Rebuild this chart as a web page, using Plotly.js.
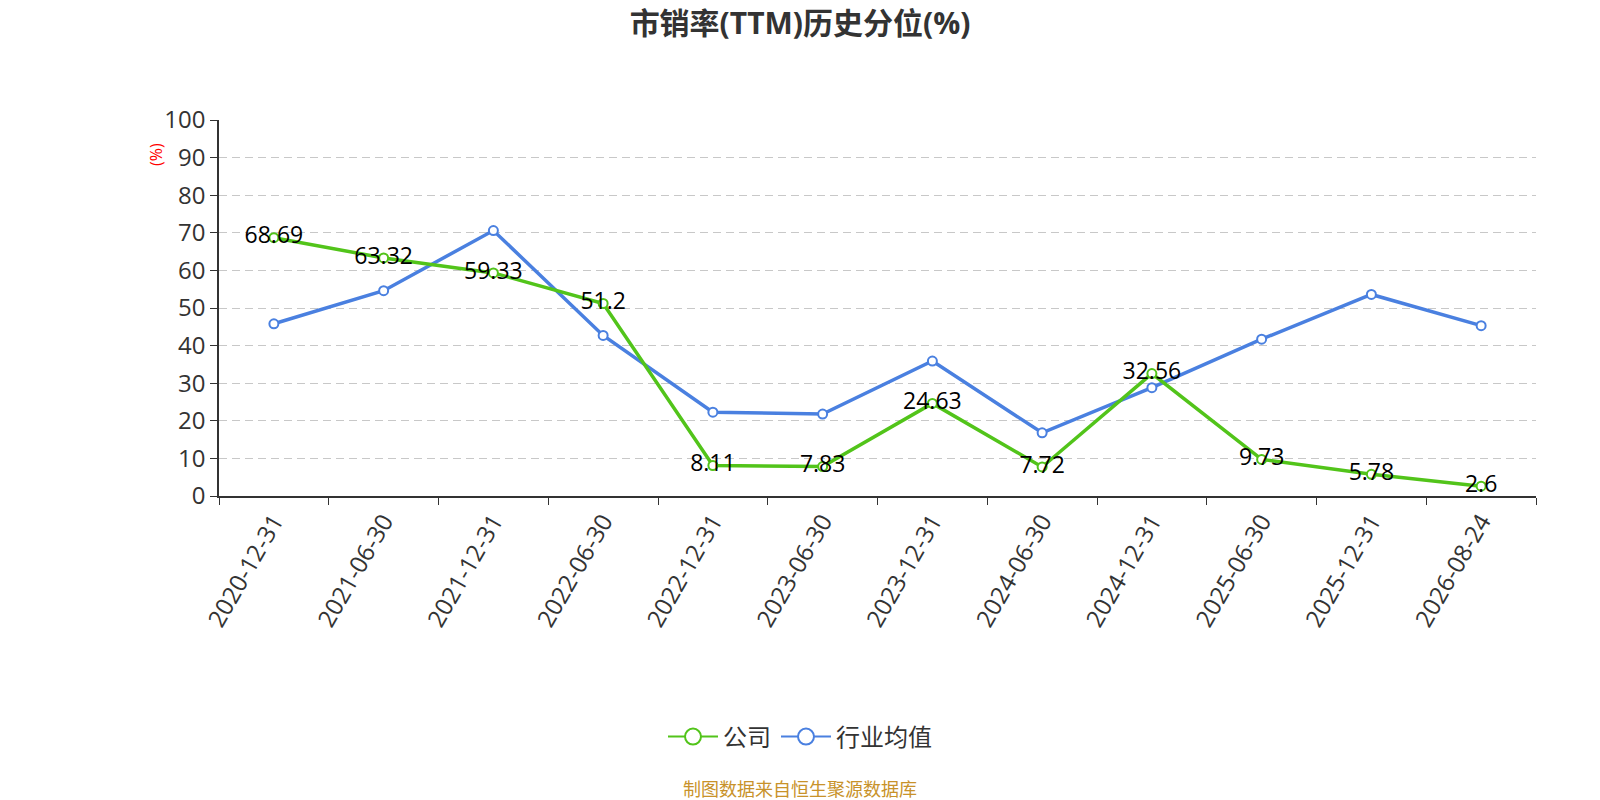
<!DOCTYPE html>
<html>
<head>
<meta charset="utf-8">
<script src="https://cdn.plot.ly/plotly-3.0.1.min.js"></script>
<style>
  html, body { margin: 0; padding: 0; background: #fff; }
  #chart { width: 1600px; height: 800px; }
</style>
</head>
<body>
<div id="chart"></div>
<script>
const dates = ['2020-12-31', '2021-06-30', '2021-12-31', '2022-06-30', '2022-12-31', '2023-06-30',
               '2023-12-31', '2024-06-30', '2024-12-31', '2025-06-30', '2025-12-31', '2026-08-24'];
const company = [68.69, 63.32, 59.33, 51.2, 8.11, 7.83, 24.63, 7.72, 32.56, 9.73, 5.78, 2.6];
const industry = [45.8, 54.6, 70.6, 42.7, 22.3, 21.8, 35.9, 16.8, 28.8, 41.7, 53.6, 45.3];
const series_names = ['公司', '行业均值'];
const series_colors = ['#52c41a', '#4a80e0'];

const font = "'Open Sans', 'Noto Sans CJK SC', sans-serif";

function line_trace(y, i, with_text) {
  let t = {
    x: dates,
    y: y,
    name: series_names[i],
    type: 'scatter',
    mode: with_text ? 'lines+markers+text' : 'lines+markers',
    line: {color: series_colors[i], width: 3.5},
    marker: {symbol: 'circle', size: 9, color: '#fff', line: {color: series_colors[i], width: 2}},
    cliponaxis: false,
    showlegend: false,
  };
  if (with_text) {
    t.text = y.map(String);
    t.textposition = 'middle center';
    t.textfont = {family: font, size: 23, color: '#000'};
  }
  return t;
}

// legend-only entries with a bigger symbol, like the original legend
function legend_trace(i) {
  return {
    x: [null], y: [null],
    name: series_names[i],
    type: 'scatter',
    mode: 'lines+markers',
    line: {color: series_colors[i], width: 2},
    marker: {symbol: 'circle', size: 16, color: '#fff', line: {color: series_colors[i], width: 2}},
    showlegend: true,
  };
}

// industry first so the company line and its labels sit on top
let data = [
  line_trace(industry, 1, false),
  line_trace(company, 0, true),
  legend_trace(0),
  legend_trace(1),
];

const ml = 219, mr = 64, mt = 120, mb = 304;
const plotW = 1600 - ml - mr;
const plotH = 800 - mt - mb;

let layout = {
  width: 1600,
  height: 800,
  margin: {l: ml, r: mr, t: mt, b: mb},
  paper_bgcolor: '#fff',
  plot_bgcolor: '#fff',
  font: {family: font, color: '#333'},
  showlegend: true,
  title: {
    text: '<b>市销率(TTM)历史分位(%)</b>',
    font: {family: font, size: 30, color: '#333'},
    x: 0.5, xref: 'container', xanchor: 'center',
    y: 1 - 23 / 800, yref: 'container', yanchor: 'middle',
  },
  xaxis: {
    type: 'category',
    range: [-0.5, dates.length - 0.5],
    showline: true, linecolor: '#333', linewidth: 1.5,
    ticks: 'outside', tickson: 'boundaries', ticklen: 7, tickcolor: '#333',
    tickangle: -60,
    tickfont: {family: font, size: 24, color: '#333'},
    showgrid: false,
    zeroline: false,
  },
  yaxis: {
    range: [0, 100], dtick: 10,
    showline: true, linecolor: '#333', linewidth: 1.5,
    ticks: 'outside', ticklen: 7, tickcolor: '#333',
    tickfont: {family: font, size: 24, color: '#333'},
    showgrid: true, gridcolor: '#c8c8c8', griddash: '8px,5px', gridwidth: 1.4,
    zeroline: false,
  },
  legend: {
    orientation: 'h',
    x: 0.5, xref: 'container', xanchor: 'center',
    y: 1 - 737 / 800, yref: 'container', yanchor: 'middle',
    font: {family: font, size: 24, color: '#333'},
    itemwidth: 50,
    traceorder: 'normal',
  },
  annotations: [
    {
      text: '(%)', textangle: -90,
      x: (156 - ml) / plotW, xref: 'paper', xanchor: 'center',
      y: (800 - mb - 155) / plotH, yref: 'paper', yanchor: 'middle',
      showarrow: false,
      font: {family: font, size: 16, color: 'red'},
    },
    {
      text: '制图数据来自恒生聚源数据库',
      x: (800 - ml) / plotW, xref: 'paper', xanchor: 'center',
      y: (800 - mb - 789) / plotH, yref: 'paper', yanchor: 'middle',
      showarrow: false,
      font: {family: font, size: 18, color: '#c8922a'},
    },
  ],
};

Plotly.newPlot('chart', data, layout, {displayModeBar: false});
</script>
</body>
</html>
